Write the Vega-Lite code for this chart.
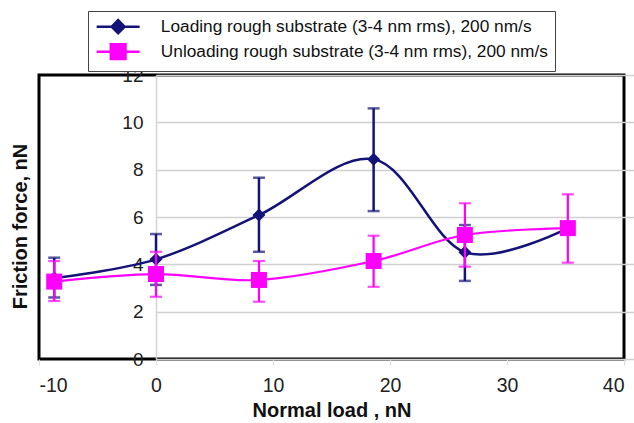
{
  "$schema": "https://vega.github.io/schema/vega-lite/v6.json",
  "width": 585,
  "height": 284,
  "autosize": "none",
  "padding": {"left": 39, "top": 75, "right": 10, "bottom": 64},
  "background": "white",
  "config": {
    "font": "Liberation Sans",
    "view": {"stroke": "#000", "strokeWidth": 3},
    "axisY": {"offset": -117, "domainColor": "#d4d4d4", "domainWidth": 1.5, "ticks": false, "labelPadding": 13, "labelFontSize": 19, "labelColor": "#222", "gridColor": "#d0d0d0", "gridWidth": 1.5, "tickCount": 6, "titleFontSize": 20, "titleFontWeight": "bold", "titleColor": "#111", "titleX": -136, "titleY": 151, "titleAngle": -90, "titleAlign": "center", "titleBaseline": "middle"},
    "axisX": {"grid": false, "domain": false, "tickColor": "#dddddd", "tickSize": 6, "labelPadding": 11, "labelFontSize": 19.5, "labelColor": "#222", "tickCount": 5, "labelExpr": "replace(datum.label, '−', '-')", "titleFontSize": 20, "titleFontWeight": "bold", "titleColor": "#111", "titlePadding": 6},
    "legend": {"orient": "none", "legendX": 49, "legendY": -64, "direction": "vertical", "labelFont": "Liberation Sans", "labelFontSize": 17.3, "labelColor": "#111", "labelLimit": 0, "padding": 7, "strokeColor": "#444", "fillColor": "white", "symbolSize": 196, "symbolStrokeWidth": 2.5, "symbolOffset": 14.5, "labelOffset": 34, "rowPadding": 0}
  },
  "data": {"values": [
    {"series": "Loading rough substrate  (3-4 nm rms), 200 nm/s", "x": -8.7, "y": 3.42, "lo": 2.6, "hi": 4.28},
    {"series": "Loading rough substrate  (3-4 nm rms), 200 nm/s", "x": 0, "y": 4.21, "lo": 3.13, "hi": 5.28},
    {"series": "Loading rough substrate  (3-4 nm rms), 200 nm/s", "x": 8.8, "y": 6.08, "lo": 4.53, "hi": 7.66},
    {"series": "Loading rough substrate  (3-4 nm rms), 200 nm/s", "x": 18.6, "y": 8.44, "lo": 6.25, "hi": 10.59},
    {"series": "Loading rough substrate  (3-4 nm rms), 200 nm/s", "x": 26.4, "y": 4.51, "lo": 3.3, "hi": 5.66},
    {"series": "Loading rough substrate  (3-4 nm rms), 200 nm/s", "x": 35.2, "y": 5.53, "lo": null, "hi": null},
    {"series": "Unloading rough substrate (3-4 nm rms), 200 nm/s", "x": -8.7, "y": 3.27, "lo": 2.45, "hi": 4.14},
    {"series": "Unloading rough substrate (3-4 nm rms), 200 nm/s", "x": 0, "y": 3.59, "lo": 2.63, "hi": 4.53},
    {"series": "Unloading rough substrate (3-4 nm rms), 200 nm/s", "x": 8.8, "y": 3.34, "lo": 2.42, "hi": 4.14},
    {"series": "Unloading rough substrate (3-4 nm rms), 200 nm/s", "x": 18.6, "y": 4.14, "lo": 3.05, "hi": 5.21},
    {"series": "Unloading rough substrate (3-4 nm rms), 200 nm/s", "x": 26.4, "y": 5.24, "lo": 3.9, "hi": 6.58},
    {"series": "Unloading rough substrate (3-4 nm rms), 200 nm/s", "x": 35.2, "y": 5.53, "lo": 4.07, "hi": 6.96}
  ]},
  "layer": [
    {
      "transform": [{"filter": "datum.series == 'Loading rough substrate  (3-4 nm rms), 200 nm/s'"}],
      "mark": {"type": "line", "color": "#141478", "strokeWidth": 2.5, "interpolate": "cardinal"},
      "encoding": {
        "x": {"field": "x", "type": "quantitative", "title": "Normal load , nN", "scale": {"domain": [-10, 40], "nice": false, "zero": false}},
        "y": {"field": "y", "type": "quantitative", "title": "Friction force, nN", "scale": {"domain": [0, 12], "nice": false}}
      }
    },
    {
      "transform": [{"filter": "datum.series == 'Loading rough substrate  (3-4 nm rms), 200 nm/s' && datum.lo != null"}],
      "mark": {"type": "errorbar", "ticks": true, "size": 12, "thickness": 2.5, "color": "#141478"},
      "encoding": {
        "x": {"field": "x", "type": "quantitative", "title": "Normal load , nN"},
        "y": {"field": "lo", "type": "quantitative", "title": "Friction force, nN"},
        "y2": {"field": "hi"}
      }
    },
    {
      "transform": [{"filter": "datum.series == 'Loading rough substrate  (3-4 nm rms), 200 nm/s'"}],
      "mark": {"type": "point", "shape": "diamond", "filled": true, "size": 169, "color": "#141478", "opacity": 1},
      "encoding": {
        "x": {"field": "x", "type": "quantitative", "title": "Normal load , nN"},
        "y": {"field": "y", "type": "quantitative", "title": "Friction force, nN"}
      }
    },
    {
      "transform": [{"filter": "datum.series == 'Unloading rough substrate (3-4 nm rms), 200 nm/s'"}],
      "mark": {"type": "line", "color": "#ff00ff", "strokeWidth": 2.2, "interpolate": "cardinal"},
      "encoding": {
        "x": {"field": "x", "type": "quantitative", "title": "Normal load , nN"},
        "y": {"field": "y", "type": "quantitative", "title": "Friction force, nN"}
      }
    },
    {
      "transform": [{"filter": "datum.series == 'Unloading rough substrate (3-4 nm rms), 200 nm/s' && datum.lo != null"}],
      "mark": {"type": "errorbar", "ticks": true, "size": 12, "thickness": 2.2, "color": "#ff00ff"},
      "encoding": {
        "x": {"field": "x", "type": "quantitative", "title": "Normal load , nN"},
        "y": {"field": "lo", "type": "quantitative", "title": "Friction force, nN"},
        "y2": {"field": "hi"}
      }
    },
    {
      "transform": [{"filter": "datum.series == 'Unloading rough substrate (3-4 nm rms), 200 nm/s'"}],
      "mark": {"type": "point", "shape": "square", "filled": true, "size": 256, "color": "#ff00ff", "opacity": 1},
      "encoding": {
        "x": {"field": "x", "type": "quantitative", "title": "Normal load , nN"},
        "y": {"field": "y", "type": "quantitative", "title": "Friction force, nN"}
      }
    },
    {
      "transform": [{"filter": "false"}],
      "mark": {"type": "point", "filled": true, "strokeWidth": 2.5, "opacity": 1},
      "encoding": {
        "shape": {"field": "series", "type": "nominal", "title": null, "scale": {"domain": ["Loading rough substrate  (3-4 nm rms), 200 nm/s", "Unloading rough substrate (3-4 nm rms), 200 nm/s"], "range": ["M-3.07,0H3.07M0,-0.93L0.93,0L0,0.93L-0.93,0Z", "M-3.07,0H3.07M-1.05,-1.05H1.05V1.05H-1.05Z"]}},
        "fill": {"field": "series", "type": "nominal", "title": null, "scale": {"domain": ["Loading rough substrate  (3-4 nm rms), 200 nm/s", "Unloading rough substrate (3-4 nm rms), 200 nm/s"], "range": ["#141478", "#ff00ff"]}},
        "stroke": {"field": "series", "type": "nominal", "title": null, "scale": {"domain": ["Loading rough substrate  (3-4 nm rms), 200 nm/s", "Unloading rough substrate (3-4 nm rms), 200 nm/s"], "range": ["#141478", "#ff00ff"]}}
      }
    }
  ]
}
